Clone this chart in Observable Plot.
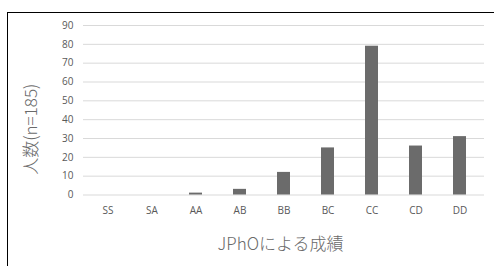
<!DOCTYPE html>
<html>
<head>
<meta charset="utf-8">
<script src="https://cdn.jsdelivr.net/npm/d3@7"></script>
<script src="https://cdn.jsdelivr.net/npm/@observablehq/plot@0.6"></script>
<style>
  html, body { margin: 0; padding: 0; background: #fff; }
  #wrap { position: relative; width: 494px; height: 266px; overflow: hidden; background: #fff; }
  #frame { position: absolute; left: 7px; top: 12px; width: 600px; height: 400px;
           border-top: 1px solid #000; border-left: 1px solid #000; pointer-events: none; }
  #wrap svg { position: absolute; left: 0; top: 0; }
</style>
</head>
<body>
<div id="wrap"><div id="frame"></div></div>
<script>
const categories = ["SS", "SA", "AA", "AB", "BB", "BC", "CC", "CD", "DD"];
const counts = [0, 0, 1, 3, 12, 25, 79, 26, 31];
const yTicks = [0, 10, 20, 30, 40, 50, 60, 70, 80, 90];
const yLabel = "人数(n=185)";
const xLabel = "JPhOによる成績";

const data = categories.map((c, i) => ({grade: c, count: counts[i]}));

const chart = Plot.plot({
  width: 494,
  height: 266,
  marginLeft: 83,
  marginRight: 10,
  marginTop: 25,
  marginBottom: 71.5,
  style: {fontFamily: "'Open Sans', 'Noto Sans', sans-serif", fontSize: "10px", color: "#595959", background: "transparent"},
  x: {domain: categories, paddingInner: 0.71, paddingOuter: 0.355, align: 0.5, label: null, tickSize: 0, tickPadding: 12},
  y: {domain: [0, 90], ticks: yTicks, label: null, tickSize: 0, tickPadding: 10},
  marks: [
    Plot.ruleY(yTicks, {stroke: "#d9d9d9", strokeWidth: 1}),
    Plot.barY(data, {x: "grade", y: "count", fill: "#6b6b6b"}),
    Plot.text([yLabel], {frameAnchor: "left", text: d => d, rotate: -90, dx: -51.5, dy: 19,
      textAnchor: "middle", lineAnchor: "middle",
      fontSize: 17, fontWeight: 300, fill: "#6a6a6a", fontFamily: "'Noto Sans CJK JP', sans-serif"}),
    Plot.text([xLabel], {frameAnchor: "bottom", text: d => d, dy: 49.5, dx: -3.5,
      textAnchor: "middle", lineAnchor: "middle",
      fontSize: 17, fontWeight: 300, fill: "#6a6a6a", fontFamily: "'Noto Sans CJK JP', sans-serif"})
  ]
});
document.getElementById("wrap").insertBefore(chart, document.getElementById("frame"));
</script>
</body>
</html>
